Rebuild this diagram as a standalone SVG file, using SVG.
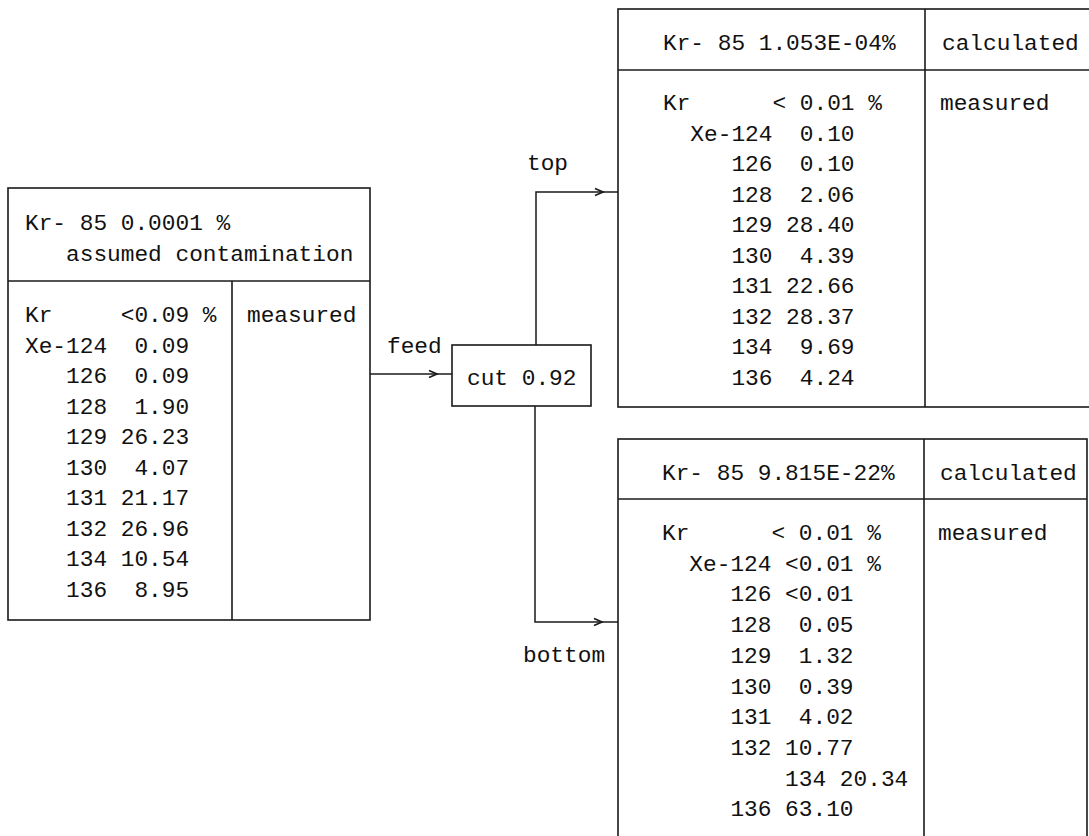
<svg xmlns="http://www.w3.org/2000/svg" width="1089" height="836" viewBox="0 0 1089 836" xml:space="preserve">
<style>
  .bx { fill: #ffffff; stroke: #1a1a1a; stroke-width: 1.6; }
  .ln { stroke: #1a1a1a; stroke-width: 1.6; fill: none; }
  text { font-family: "Liberation Mono", "DejaVu Sans Mono", monospace; font-size: 22.8px; fill: #111111; white-space: pre; }
  .cn { stroke: #1a1a1a; stroke-width: 1.5; fill: none; }
</style>
<defs>
  <marker id="chev" viewBox="0 0 10 10" refX="9" refY="5" markerWidth="10" markerHeight="10" markerUnits="userSpaceOnUse" orient="auto">
    <path d="M1,1.5 L9,5 L1,8.5" fill="none" stroke="#1a1a1a" stroke-width="1.5"/>
  </marker>
</defs>
<rect width="1089" height="836" fill="#ffffff"/>

<g id="feed-node">
  <rect class="bx" x="8" y="188" width="362" height="432"/>
  <line class="ln" x1="8" y1="281" x2="370" y2="281"/>
  <line class="ln" x1="232" y1="281" x2="232" y2="620"/>
  <text x="25" y="230">Kr- 85 0.0001 %</text>
  <text x="25" y="261">   assumed contamination</text>
  <text x="25" y="322">Kr     &lt;0.09 %</text>
  <text x="25" y="352.5">Xe-124  0.09</text>
  <text x="25" y="383">   126  0.09</text>
  <text x="25" y="413.5">   128  1.90</text>
  <text x="25" y="444">   129 26.23</text>
  <text x="25" y="474.5">   130  4.07</text>
  <text x="25" y="505">   131 21.17</text>
  <text x="25" y="535.5">   132 26.96</text>
  <text x="25" y="566">   134 10.54</text>
  <text x="25" y="596.5">   136  8.95</text>
  <text x="247" y="322">measured</text>
</g>

<g id="cut-node">
  <rect class="bx" x="452" y="345" width="139" height="61"/>
  <text x="467" y="385">cut 0.92</text>
</g>

<g id="top-node">
  <rect class="bx" x="618" y="9" width="490" height="398"/>
  <line class="ln" x1="618" y1="70" x2="1089" y2="70"/>
  <line class="ln" x1="925" y1="9" x2="925" y2="407"/>
  <text x="663" y="50">Kr- 85 1.053E-04%</text>
  <text x="942" y="50">calculated</text>
  <text x="663" y="110">Kr      &lt; 0.01 %</text>
  <text x="663" y="140.5">  Xe-124  0.10</text>
  <text x="663" y="171">     126  0.10</text>
  <text x="663" y="201.5">     128  2.06</text>
  <text x="663" y="232">     129 28.40</text>
  <text x="663" y="262.5">     130  4.39</text>
  <text x="663" y="293">     131 22.66</text>
  <text x="663" y="323.5">     132 28.37</text>
  <text x="663" y="354">     134  9.69</text>
  <text x="663" y="384.5">     136  4.24</text>
  <text x="940" y="110">measured</text>
</g>

<g id="bottom-node">
  <rect class="bx" x="618" y="439" width="469" height="420"/>
  <line class="ln" x1="618" y1="499" x2="1087" y2="499"/>
  <line class="ln" x1="924" y1="439" x2="924" y2="859"/>
  <text x="662" y="480">Kr- 85 9.815E-22%</text>
  <text x="940" y="480">calculated</text>
  <text x="662" y="540">Kr      &lt; 0.01 %</text>
  <text x="662" y="570.7">  Xe-124 &lt;0.01 %</text>
  <text x="662" y="601.4">     126 &lt;0.01</text>
  <text x="662" y="632.1">     128  0.05</text>
  <text x="662" y="662.8">     129  1.32</text>
  <text x="662" y="693.5">     130  0.39</text>
  <text x="662" y="724.2">     131  4.02</text>
  <text x="662" y="754.9">     132 10.77</text>
  <text x="662" y="785.6">         134 20.34</text>
  <text x="662" y="816.3">     136 63.10</text>
  <text x="938" y="540">measured</text>
</g>

<g id="connectors">
  <path class="cn" d="M370,374 L437,374" marker-end="url(#chev)"/>
  <path class="cn" d="M437,374 L452,374"/>
  <path class="cn" d="M536,345 L536,192 L603,192" marker-end="url(#chev)"/>
  <path class="cn" d="M603,192 L618,192"/>
  <path class="cn" d="M535,406 L535,622 L602,622" marker-end="url(#chev)"/>
  <path class="cn" d="M602,622 L618,622"/>
  <text x="387" y="353">feed</text>
  <text x="527" y="170">top</text>
  <text x="523" y="662">bottom</text>
</g>
</svg>
